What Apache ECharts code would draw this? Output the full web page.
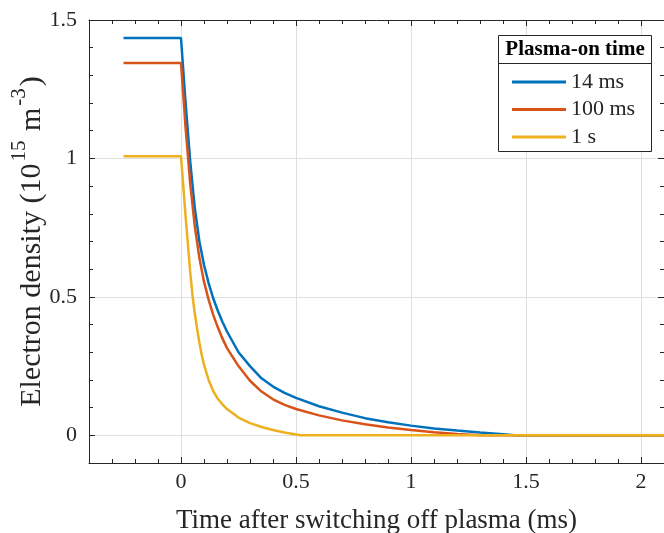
<!DOCTYPE html>
<html>
<head>
<meta charset="utf-8">
<script src="https://cdn.jsdelivr.net/npm/echarts@6/dist/echarts.min.js"></script>
<style>
  html, body { margin: 0; padding: 0; background: #fff; }
  #chart { width: 664px; height: 533px; }
</style>
</head>
<body>
<div id="chart"></div>
<script>
// 数据：读图得到的电子密度衰减曲线
const seriesNames = ['14 ms', '100 ms', '1 s'];

const time14ms = [-0.25, 0, 0.02, 0.04, 0.06, 0.08, 0.1, 0.12, 0.14, 0.16, 0.18, 0.2, 0.25, 0.3, 0.35, 0.4, 0.45, 0.5, 0.6, 0.7, 0.8, 0.9, 1.0, 1.1, 1.2, 1.3, 1.4, 1.45, 2.1];
const dens14ms = [1.435, 1.435, 1.2, 0.99, 0.82, 0.70, 0.615, 0.55, 0.495, 0.45, 0.41, 0.375, 0.30, 0.25, 0.206, 0.176, 0.153, 0.135, 0.105, 0.082, 0.062, 0.047, 0.035, 0.025, 0.017, 0.01, 0.004, 0, 0];

const time100ms = [-0.25, 0, 0.02, 0.04, 0.06, 0.08, 0.1, 0.12, 0.14, 0.16, 0.18, 0.2, 0.25, 0.3, 0.35, 0.4, 0.45, 0.5, 0.6, 0.7, 0.8, 0.9, 1.0, 1.1, 1.2, 1.3, 2.1];
const dens100ms = [1.345, 1.345, 1.11, 0.91, 0.755, 0.64, 0.555, 0.49, 0.435, 0.39, 0.35, 0.315, 0.25, 0.197, 0.158, 0.13, 0.11, 0.095, 0.072, 0.054, 0.04, 0.028, 0.019, 0.011, 0.005, 0, 0];

const time1s = [-0.25, 0, 0.01, 0.02, 0.03, 0.04, 0.05, 0.06, 0.07, 0.08, 0.09, 0.1, 0.12, 0.14, 0.16, 0.18, 0.2, 0.25, 0.3, 0.35, 0.4, 0.45, 0.5, 0.52, 2.1];
const dens1s = [1.008, 1.008, 0.90, 0.79, 0.69, 0.59, 0.505, 0.44, 0.385, 0.335, 0.29, 0.255, 0.20, 0.16, 0.132, 0.112, 0.095, 0.064, 0.044, 0.03, 0.019, 0.01, 0.003, 0, 0];

const xRange = [-0.4, 2.1];
const yRange = [-0.1, 1.5];
const colors = ['#0072BD', '#D95319', '#EDB120'];

const FONT = '"Liberation Serif", "Times New Roman", serif';
const INK = '#262626';

function pairs (xs, ys) {
  return xs.map(function (x, i) { return [x, ys[i]]; });
}

const myChart = echarts.init(document.getElementById('chart'));

// 主刻度轴（0.5 间隔，自动计算）和次刻度轴（0.1 间隔）
function xAx (pos, minor, labels) {
  return {
    type: 'value', position: pos, min: xRange[0], max: xRange[1],
    splitNumber: minor ? undefined : 5,
    interval: minor ? 0.1 : undefined,
    axisLine: { show: !minor, onZero: false, lineStyle: { color: INK, width: 1 } },
    axisTick: { show: true, inside: true, length: minor ? 4 : 6, lineStyle: { color: INK } },
    axisLabel: {
      show: labels, margin: 8, fontSize: 22, fontFamily: FONT, color: INK,
      showMinLabel: false, showMaxLabel: false
    },
    splitLine: { show: labels, lineStyle: { color: '#dfdfdf', width: 1 } }
  };
}
function yAx (pos, minor, labels) {
  return {
    type: 'value', position: pos, min: yRange[0], max: yRange[1],
    splitNumber: minor ? undefined : 3,
    interval: minor ? 0.1 : undefined,
    axisLine: { show: !minor, onZero: false, lineStyle: { color: INK, width: 1 } },
    axisTick: { show: true, inside: true, length: minor ? 4 : 6, lineStyle: { color: INK } },
    axisLabel: {
      show: labels, margin: 12, fontSize: 22, fontFamily: FONT, color: INK,
      showMinLabel: false
    },
    splitLine: { show: labels, lineStyle: { color: '#dfdfdf', width: 1 } }
  };
}

const xMain = xAx('bottom', false, true);
xMain.name = 'Time after switching off plasma (ms)';
xMain.nameLocation = 'middle';
xMain.nameGap = 44;
xMain.nameMoveOverlap = false;
xMain.nameTextStyle = { fontSize: 27, fontFamily: FONT, color: INK };

const yMain = yAx('left', false, true);
yMain.name = '{t|Electron density (10}{s|15}{t| m}{s|-3}{t|)}';
yMain.nameLocation = 'middle';
yMain.nameGap = 42;
yMain.nameRotate = 90;
yMain.nameMoveOverlap = false;
yMain.nameTextStyle = {
  rich: {
    t: { fontSize: 30, lineHeight: 30, fontFamily: FONT, color: INK, verticalAlign: 'bottom' },
    s: { fontSize: 21, lineHeight: 21, fontFamily: FONT, color: INK, verticalAlign: 'bottom', padding: [0, 2, 17, 2] }
  }
};

const option = {
  animation: false,
  color: colors,
  grid: { left: 89, right: 0, top: 20, bottom: 70, containLabel: false, outerBoundsMode: 'none' },
  xAxis: [
    xMain,
    xAx('bottom', true, false),
    xAx('top', false, false),
    xAx('top', true, false)
  ],
  yAxis: [
    yMain,
    yAx('left', true, false),
    yAx('right', false, false),
    yAx('right', true, false)
  ],
  legend: {
    orient: 'vertical',
    left: 498,
    top: 63,
    padding: [8, 20, 6, 14],
    itemWidth: 54,
    itemHeight: 3,
    itemGap: 5.5,
    icon: 'rect',
    z: 60,
    textStyle: { fontSize: 22, fontFamily: FONT, color: INK },
    data: seriesNames
  },
  graphic: [
    {
      type: 'rect', z: 50,
      shape: { x: 498.5, y: 35.5, width: 153, height: 116 },
      style: { fill: '#fff', stroke: INK, lineWidth: 1 }
    },
    {
      type: 'line', z: 51,
      shape: { x1: 498.5, y1: 63.5, x2: 651.5, y2: 63.5 },
      style: { stroke: INK, lineWidth: 1 }
    },
    {
      type: 'text', z: 52, x: 575, y: 50,
      style: {
        text: 'Plasma-on time', align: 'center', verticalAlign: 'middle',
        fontSize: 21, fontWeight: 'bold', fontFamily: FONT, fill: '#000'
      }
    }
  ],
  series: [
    { name: seriesNames[0], data: pairs(time14ms, dens14ms) },
    { name: seriesNames[1], data: pairs(time100ms, dens100ms) },
    { name: seriesNames[2], data: pairs(time1s, dens1s) }
  ].map(function (s) {
    return Object.assign({
      type: 'line', showSymbol: false, symbol: 'none',
      smooth: false,
      lineStyle: { width: 2.5 }
    }, s);
  })
};

myChart.setOption(option);
window.addEventListener('resize', function () {
  myChart.resize();
});
</script>
</body>
</html>
